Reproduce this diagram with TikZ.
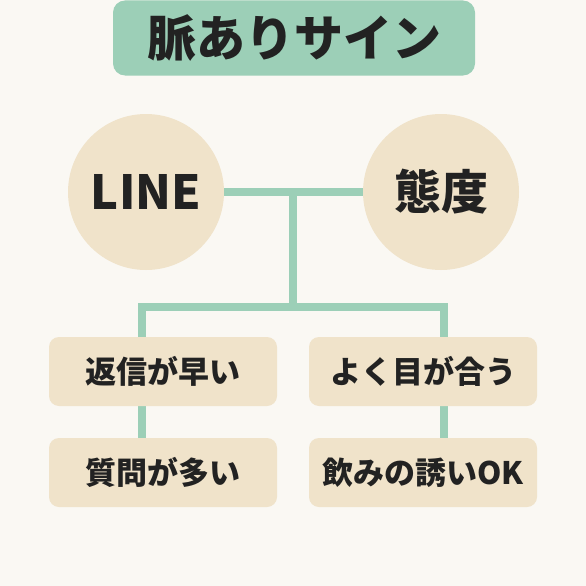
\documentclass[tikz,border=0pt]{standalone}
\usepackage{fontspec}
\setmainfont{Noto Sans CJK JP}
\usetikzlibrary{backgrounds}
\definecolor{bgc}{HTML}{FAF8F3}
\definecolor{mint}{HTML}{9CCFB7}
\definecolor{sand}{HTML}{F0E3CA}
\definecolor{ink}{HTML}{222222}
\tikzset{
  titlebox/.style={fill=mint, rounded corners=12pt, minimum width=362pt, minimum height=75pt, text=ink, font=\fontsize{49}{52}\selectfont\bfseries},
  topic/.style={circle, fill=sand, minimum size=156pt, inner sep=0pt, text=ink, font=\fontsize{47}{52}\selectfont\bfseries},
  item/.style={fill=sand, rounded corners=10pt, minimum width=228pt, minimum height=69pt, text=ink, font=\fontsize{31}{34}\selectfont\bfseries},
  conn/.style={draw=mint, line width=8pt}
}
\begin{document}
\begin{tikzpicture}[x=1pt,y=-1pt]
\useasboundingbox (0,0) rectangle (586,586);
\node[titlebox] (title) at (294,38) {脈ありサイン};
\node[topic] (line) at (146,192) {LINE};
\node[topic] (taido) at (441,192) {態度};
\node[item] (b1) at (163,371.5) {返信が早い};
\node[item] (b2) at (423,371.5) {よく目が合う};
\node[item] (b3) at (163,472.5) {質問が多い};
\node[item] (b4) at (423,472.5) {飲みの誘いOK};
\coordinate (mid) at (293,192);
\coordinate (jc) at (293,307);
\coordinate (jl) at (142,307);
\coordinate (jr) at (444,307);
\begin{scope}[on background layer]
\fill[bgc] (0,0) rectangle (586,586);
\draw[conn] (line.east) -- (taido.west);
\draw[conn] (mid) -- (jc);
\draw[conn] (jl |- b1.north) -- (jl) -- (jr) -- (jr |- b2.north);
\draw[conn] (jl |- b1.south) -- (jl |- b3.north);
\draw[conn] (jr |- b2.south) -- (jr |- b4.north);
\end{scope}
\end{tikzpicture}
\end{document}
